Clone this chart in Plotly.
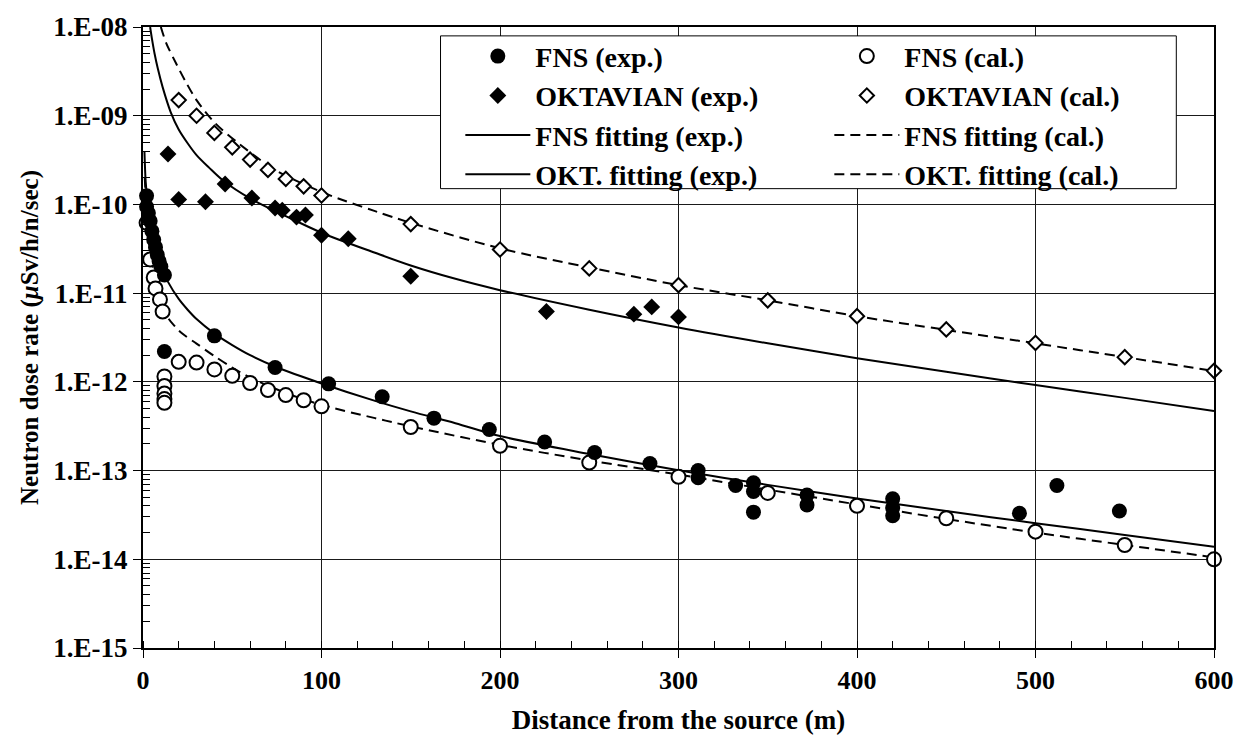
import plotly.graph_objects as go

# ---------------- data ----------------
fns_exp_x = [2, 2, 3, 4, 5, 6, 7, 8, 9, 10, 12, 12, 40, 74, 104, 134, 163, 194, 225, 253,
             284, 311, 311, 332, 342, 342, 342, 372, 372, 420, 420, 420, 491, 512, 547]
fns_exp_y = [1.25e-10, 9.4e-11, 8.0e-11, 6.5e-11, 5.0e-11, 4.0e-11, 3.3e-11, 2.7e-11, 2.3e-11,
             2.0e-11, 1.6e-11, 2.2e-12, 3.3e-12, 1.45e-12, 9.5e-13, 6.8e-13, 3.9e-13, 2.9e-13,
             2.1e-13, 1.6e-13, 1.2e-13, 1.0e-13, 8.3e-14, 6.8e-14, 7.3e-14, 5.8e-14, 3.4e-14,
             5.3e-14, 4.1e-14, 4.8e-14, 3.8e-14, 3.1e-14, 3.3e-14, 6.8e-14, 3.5e-14]

fns_cal_x = [2, 4, 6, 7, 9.5, 11, 12, 12, 12, 12, 12, 20, 30, 40, 50, 60, 70, 80, 90, 100,
             150, 200, 250, 300, 350, 400, 450, 500, 550, 600]
fns_cal_y = [6.2e-11, 2.4e-11, 1.5e-11, 1.13e-11, 8.5e-12, 6.2e-12, 1.15e-12, 9.0e-13, 7.4e-13,
             6.4e-13, 5.8e-13, 1.68e-12, 1.65e-12, 1.38e-12, 1.17e-12, 9.7e-13, 8.1e-13, 7.1e-13,
             6.2e-13, 5.3e-13, 3.1e-13, 1.9e-13, 1.23e-13, 8.5e-14, 5.6e-14, 4.0e-14, 2.9e-14,
             2.05e-14, 1.45e-14, 1.0e-14]

okt_exp_x = [14, 20, 35, 46, 61, 74, 78, 86, 91, 100, 115, 150, 226, 275, 285, 300]
okt_exp_y = [3.7e-10, 1.14e-10, 1.07e-10, 1.7e-10, 1.18e-10, 9.1e-11, 8.6e-11, 7.2e-11, 7.6e-11,
             4.5e-11, 4.1e-11, 1.55e-11, 6.2e-12, 5.8e-12, 7.0e-12, 5.4e-12]

okt_cal_x = [20, 30, 40, 50, 60, 70, 80, 90, 100, 150, 200, 250, 300, 350, 400, 450, 500, 550, 600]
okt_cal_y = [1.5e-9, 1.0e-9, 6.4e-10, 4.4e-10, 3.2e-10, 2.45e-10, 1.94e-10, 1.6e-10, 1.26e-10,
             6.0e-11, 3.1e-11, 1.9e-11, 1.23e-11, 8.3e-12, 5.5e-12, 3.9e-12, 2.75e-12, 1.9e-12,
             1.33e-12]

fns_fit_exp_x = [0.8, 1.5, 2.5, 4, 6, 8, 10, 14, 20, 25, 30, 40, 50, 60, 75, 100, 130, 150, 175,
                 200, 250, 300, 350, 400, 450, 500, 550, 600]
fns_fit_exp_y = [4.0e-10, 1.8e-10, 1.1e-10, 6.5e-11, 4.0e-11, 2.8e-11, 2.0e-11, 1.34e-11, 8.6e-12,
                 6.5e-12, 5.1e-12, 3.5e-12, 2.6e-12, 2.0e-12, 1.46e-12, 9.6e-13, 6.1e-13, 4.65e-13,
                 3.42e-13, 2.45e-13, 1.54e-13, 1.01e-13, 6.9e-14, 4.85e-14, 3.5e-14, 2.55e-14,
                 1.88e-14, 1.38e-14]

fns_fit_cal_x = [1, 2, 4, 6, 8, 10, 14, 18, 22, 30, 40, 50, 60, 80, 100, 130, 150, 200, 250,
                 300, 350, 400, 450, 500, 550, 600]
fns_fit_cal_y = [2.0e-10, 8.0e-11, 3.0e-11, 1.7e-11, 1.15e-11, 8.5e-12, 5.3e-12, 4.2e-12, 3.5e-12,
                 2.7e-12, 1.95e-12, 1.45e-12, 1.12e-12, 7.5e-13, 5.5e-13, 3.9e-13, 3.15e-13,
                 1.95e-13, 1.3e-13, 9.0e-14, 6.1e-14, 4.15e-14, 2.85e-14, 2.0e-14, 1.45e-14,
                 1.05e-14]

okt_fit_exp_x = [4, 5, 6.5, 8.3, 11, 15.5, 20, 25, 30, 37, 45, 60, 80, 100, 130, 150, 175, 200,
                 250, 300, 350, 400, 450, 500, 550, 600]
okt_fit_exp_y = [1.0e-8, 7.4e-9, 5.0e-9, 3.4e-9, 2.1e-9, 1.1e-9, 7.0e-10, 4.9e-10, 3.6e-10,
                 2.6e-10, 1.85e-10, 1.17e-10, 7.4e-11, 4.8e-11, 2.85e-11, 2.05e-11, 1.45e-11,
                 1.08e-11, 6.5e-12, 4.1e-12, 2.72e-12, 1.85e-12, 1.3e-12, 9.2e-13, 6.6e-13, 4.7e-13]

okt_fit_cal_x = [10, 13, 18.5, 24, 30, 40, 54, 74, 100, 113, 130, 150, 200, 250, 300, 350, 400,
                 450, 500, 550, 600]
okt_fit_cal_y = [1.0e-8, 6.6e-9, 3.9e-9, 2.4e-9, 1.5e-9, 8.4e-10, 4.8e-10, 2.45e-10, 1.38e-10,
                 1.1e-10, 8.4e-11, 6.2e-11, 3.2e-11, 1.95e-11, 1.23e-11, 8.3e-12, 5.5e-12,
                 3.85e-12, 2.72e-12, 1.9e-12, 1.33e-12]

y_tick_vals = [1e-15, 1e-14, 1e-13, 1e-12, 1e-11, 1e-10, 1e-9, 1e-8]
y_tick_text = ["1.E-15", "1.E-14", "1.E-13", "1.E-12", "1.E-11", "1.E-10", "1.E-09", "1.E-08"]

# ---------------- figure ----------------
FONT = "Liberation Serif"
DASH = "10px,6px"
fig = go.Figure()

def line_trace(x, y, name, dash, rank):
    return go.Scatter(x=x, y=y, mode="lines", name=name, legendrank=rank,
                      line=dict(color="black", width=2, dash=dash, shape="spline", smoothing=0.9))

fig.add_trace(line_trace(fns_fit_exp_x, fns_fit_exp_y, "FNS fitting (exp.)", "solid", 5))
fig.add_trace(line_trace(fns_fit_cal_x, fns_fit_cal_y, "FNS fitting (cal.)", DASH, 6))
fig.add_trace(line_trace(okt_fit_exp_x, okt_fit_exp_y, "OKT. fitting (exp.)", "solid", 7))
fig.add_trace(line_trace(okt_fit_cal_x, okt_fit_cal_y, "OKT. fitting (cal.)", DASH, 8))

fig.add_trace(go.Scatter(x=fns_cal_x, y=fns_cal_y, mode="markers", name="FNS (cal.)", legendrank=2,
                         cliponaxis=False,
                         marker=dict(symbol="circle", size=14, color="white",
                                     line=dict(color="black", width=2))))
fig.add_trace(go.Scatter(x=okt_cal_x, y=okt_cal_y, mode="markers", name="OKTAVIAN (cal.)", legendrank=4,
                         cliponaxis=False,
                         marker=dict(symbol="diamond", size=11, color="white",
                                     line=dict(color="black", width=2))))
fig.add_trace(go.Scatter(x=fns_exp_x, y=fns_exp_y, mode="markers", name="FNS (exp.)", legendrank=1,
                         cliponaxis=False,
                         marker=dict(symbol="circle", size=15, color="black",
                                     line=dict(color="black", width=0))))
fig.add_trace(go.Scatter(x=okt_exp_x, y=okt_exp_y, mode="markers", name="OKTAVIAN (exp.)", legendrank=3,
                         cliponaxis=False,
                         marker=dict(symbol="diamond", size=13, color="black",
                                     line=dict(color="black", width=0))))

minor_y = [m * 10.0 ** e for e in range(-15, -8) for m in range(2, 10)]

fig.update_layout(
    width=1246, height=742,
    margin=dict(l=143, r=23, t=26, b=86),
    paper_bgcolor="white", plot_bgcolor="white",
    font=dict(family=FONT, color="black", size=26, weight=700),
    showlegend=True,
    legend=dict(
        orientation="h", x=0.2963, y=0.9929, xanchor="left", yanchor="top",
        bgcolor="rgba(0,0,0,0)", borderwidth=0,
        font=dict(family=FONT, size=28, color="black", weight=700),
        entrywidth=289, entrywidthmode="pixels", itemwidth=65,
        traceorder="normal", tracegroupgap=0,
    ),
    shapes=[dict(type="rect", xref="paper", yref="paper",
                 x0=0.2778, x1=0.9648, y0=0.7397, y1=0.9857,
                 line=dict(color="black", width=1), fillcolor="white", layer="above")],
    xaxis=dict(
        range=[0, 600], tickmode="linear", tick0=0, dtick=100,
        showgrid=True, gridcolor="#1a1a1a", gridwidth=1,
        showline=True, linecolor="black", linewidth=2, mirror=True,
        ticks="outside", ticklen=8, tickcolor="black", tickwidth=1,
        minor=dict(dtick=20, ticks="inside", ticklen=7, tickcolor="black", showgrid=False),
        tickfont=dict(size=26, family=FONT, weight=700),
        title=dict(text="Distance from the source (m)", standoff=16,
                   font=dict(size=27, family=FONT, weight=700)),
        zeroline=False,
    ),
    yaxis=dict(
        type="log", range=[-15, -8],
        tickmode="array", tickvals=y_tick_vals, ticktext=y_tick_text,
        showgrid=True, gridcolor="#1a1a1a", gridwidth=1,
        showline=True, linecolor="black", linewidth=2, mirror=True,
        ticks="outside", ticklen=8, tickcolor="black", tickwidth=1,
        minor=dict(tickmode="array", tickvals=minor_y, ticks="inside", ticklen=7,
                   tickcolor="black", showgrid=False),
        tickfont=dict(size=27, family=FONT, weight=700),
        title=dict(text="Neutron dose rate (<i>μ</i>Sv/h/n/sec)", standoff=8,
                   font=dict(size=25, family=FONT, weight=700)),
        zeroline=False,
    ),
)

fig.write_html("out.html")
